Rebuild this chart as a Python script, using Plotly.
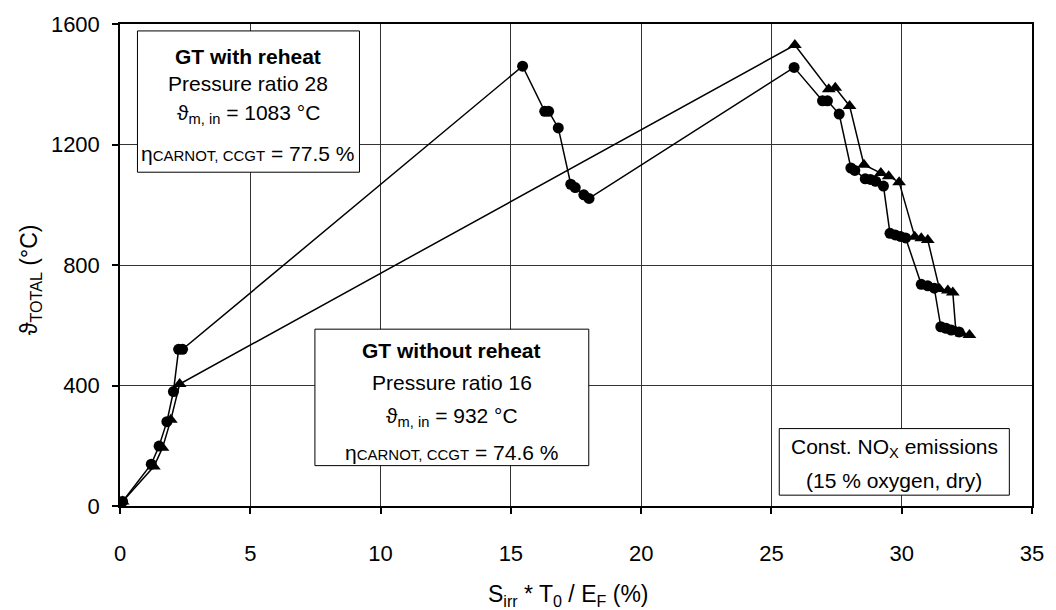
import plotly.graph_objects as go

# GT with reheat, pressure ratio 28 (circles)
reheat_x = [0.1, 1.2, 1.5, 1.8, 2.05, 2.25, 2.4, 15.45, 16.3, 16.45, 16.82, 17.3, 17.47, 17.8, 18.0,
            25.87, 26.96, 27.15, 27.6, 28.05, 28.2, 28.6, 28.8, 29.0, 29.3, 29.55, 29.75, 29.95, 30.15,
            30.75, 31.0, 31.25, 31.5, 31.7, 31.9, 32.2]
reheat_y = [15, 139, 199, 280, 380, 520, 520, 1460, 1310, 1310, 1255, 1068, 1057, 1033, 1021,
            1456, 1345, 1345, 1301, 1122, 1114, 1086, 1084, 1078, 1062, 905, 900, 895, 890,
            736, 731, 723, 595, 590, 584, 578]

# GT without reheat, pressure ratio 16 (triangles)
simple_x = [0.1, 1.3, 1.63, 1.95, 2.29, 25.9, 27.2, 27.45, 28.0, 28.55, 29.2, 29.5, 29.9,
            30.5, 30.75, 31.0, 31.45, 31.77, 31.96, 32.08, 32.3, 32.6]
simple_y = [15, 131, 193, 286, 405, 1530, 1383, 1388, 1328, 1133, 1105, 1095, 1075,
            894, 889, 883, 720, 715, 709, 579, 573, 568]

x_ticks = [0, 5, 10, 15, 20, 25, 30, 35]
y_ticks = [0, 400, 800, 1200, 1600]

FONT = "Liberation Sans, Arial, sans-serif"
SUB = "<span style='font-size:15px'>{}</span>"

fig = go.Figure()
fig.add_trace(go.Scatter(
    x=simple_x, y=simple_y, mode="lines+markers",
    line=dict(color="black", width=1.5),
    marker=dict(symbol="triangle-up", size=12, color="black"),
    showlegend=False,
))
fig.add_trace(go.Scatter(
    x=reheat_x, y=reheat_y, mode="lines+markers",
    line=dict(color="black", width=1.5),
    marker=dict(symbol="circle", size=11, color="black"),
    showlegend=False,
))

axis_common = dict(
    showline=True, linecolor="black", linewidth=1.5, mirror=True,
    ticks="outside", ticklen=6, tickcolor="black", tickwidth=1.5,
    showgrid=True, gridcolor="#333333", gridwidth=1,
    zeroline=False,
    tickfont=dict(family=FONT, size=22, color="black"),
)
fig.update_xaxes(range=[0, 35], tickvals=x_ticks, ticklabelstandoff=21, **axis_common)
fig.update_yaxes(range=[0, 1600], tickvals=y_ticks, ticklabelstandoff=8, **axis_common)

# Boxed annotations (box outline + individual text lines)
boxes = [
    dict(x0=0.67, x1=9.19, y0=1108, y1=1577),
    dict(x0=7.48, x1=17.99, y0=134, y1=587),
    dict(x0=25.3, x1=34.13, y0=36, y1=257),
]
for b in boxes:
    fig.add_shape(type="rect", xref="x", yref="y", layer="between",
                  line=dict(color="black", width=1), fillcolor="white", **b)

box_texts = [
    (4.93, [(1492, "<b>GT with reheat</b>"),
            (1404, "Pressure ratio 28"),
            (1300, "ϑ<sub>m, in</sub> = 1083 °C"),
            (1170, "η" + SUB.format("CARNOT, CCGT") + " = 77.5 %")]),
    (12.73, [(515, "<b>GT without reheat</b>"),
             (411, "Pressure ratio 16"),
             (297, "ϑ<sub>m, in</sub> = 932 °C"),
             (176, "η" + SUB.format("CARNOT, CCGT") + " = 74.6 %")]),
    (29.71, [(192, "Const. NO<sub>X</sub> emissions"),
             (85, "(15 % oxygen, dry)")]),
]
for cx, lines in box_texts:
    for ty, txt in lines:
        fig.add_annotation(x=cx, y=ty, xref="x", yref="y", text=txt, showarrow=False,
                           xanchor="center", yanchor="middle",
                           font=dict(family=FONT, size=21, color="black"))

# Axis titles
fig.add_annotation(x=0.492, y=-0.185, xref="paper", yref="paper",
                   text="S<sub>irr</sub> * T<sub>0</sub> / E<sub>F</sub> (%)",
                   showarrow=False, xanchor="center", yanchor="middle",
                   font=dict(family=FONT, size=23, color="black"))
fig.add_annotation(x=-0.098, y=0.47, xref="paper", yref="paper",
                   text="ϑ<sub>TOTAL</sub> (°C)", textangle=-90,
                   showarrow=False, xanchor="center", yanchor="middle",
                   font=dict(family=FONT, size=23, color="black"))

fig.update_layout(
    width=1056, height=610, autosize=False,
    margin=dict(l=120, r=16, t=15, b=104),
    paper_bgcolor="white", plot_bgcolor="white",
    font=dict(family=FONT, color="black"),
)

fig.write_html("out.html")
